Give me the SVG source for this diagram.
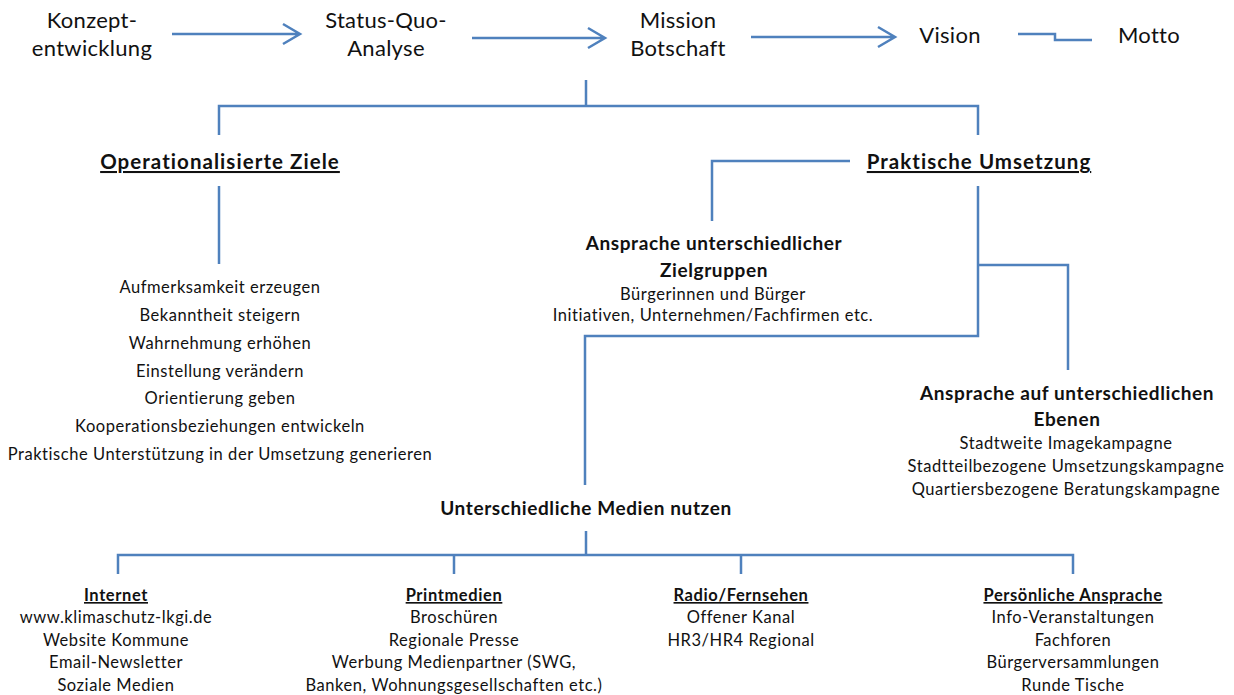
<svg xmlns="http://www.w3.org/2000/svg" width="1234" height="695" viewBox="0 0 1234 695">
<style>
text{font-family:Lato,"Open Sans","Liberation Sans",sans-serif;fill:#111;text-anchor:middle}
.t{font-size:22px;letter-spacing:0.3px}
.h{font-size:20.5px;font-weight:bold;text-decoration:underline;letter-spacing:1.05px}
.b{font-size:19px;font-weight:bold;letter-spacing:0.6px}
.r{font-size:16.5px;letter-spacing:0.55px}
.u{font-size:16.5px;font-weight:bold;text-decoration:underline;letter-spacing:0.6px}
.ln{fill:none;stroke:#4F81BD;stroke-width:2.5}
</style>
<rect width="1234" height="695" fill="#fff"/>
<g id="connectors">
<path class="ln" d="M172,34H300M283,24L300,34L283,44"/>
<path class="ln" d="M472,38H605M588,28L605,38L588,48"/>
<path class="ln" d="M751,37H895M878,27L895,37L878,47"/>
<path class="ln" d="M1018,34H1055V40H1092"/>
<path class="ln" d="M586,80V106M219,135V106H978V135"/>
<path class="ln" d="M219,186V264"/>
<path class="ln" d="M850,161H712V221"/>
<path class="ln" d="M978,186V336H585V485M978,265H1068V370"/>
<path class="ln" d="M586,531V555M118,574V555H1073V574M454,555V574M741,555V574"/>
</g>
<g id="konzept"><text class="t" x="92" y="28">Konzept-</text><text class="t" x="92" y="56">entwicklung</text></g>
<g id="statusquo"><text class="t" x="386" y="28">Status-Quo-</text><text class="t" x="386" y="56">Analyse</text></g>
<g id="mission"><text class="t" x="678" y="28">Mission</text><text class="t" x="678" y="56">Botschaft</text></g>
<g id="vision"><text class="t" x="950" y="43">Vision</text></g>
<g id="motto"><text class="t" x="1149" y="43">Motto</text></g>
<g id="ziele"><text class="h" x="220" y="169">Operationalisierte Ziele</text>
<text class="r" x="220" y="293">Aufmerksamkeit erzeugen</text>
<text class="r" x="220" y="321">Bekanntheit steigern</text>
<text class="r" x="220" y="349">Wahrnehmung erhöhen</text>
<text class="r" x="220" y="377">Einstellung verändern</text>
<text class="r" x="220" y="404">Orientierung geben</text>
<text class="r" x="220" y="432">Kooperationsbeziehungen entwickeln</text>
<text class="r" x="220" y="460">Praktische Unterstützung in der Umsetzung generieren</text>
</g>
<g id="umsetzung"><text class="h" x="979" y="169">Praktische Umsetzung</text></g>
<g id="zielgruppen"><text class="b" x="714" y="250">Ansprache unterschiedlicher</text><text class="b" x="714" y="277">Zielgruppen</text>
<text class="r" x="713" y="300">Bürgerinnen und Bürger</text>
<text class="r" x="713" y="321">Initiativen, Unternehmen/Fachfirmen etc.</text></g>
<g id="ebenen"><text class="b" x="1067" y="400">Ansprache auf unterschiedlichen</text><text class="b" x="1067" y="426">Ebenen</text>
<text class="r" x="1066" y="449">Stadtweite Imagekampagne</text>
<text class="r" x="1066" y="472">Stadtteilbezogene Umsetzungskampagne</text>
<text class="r" x="1066" y="495">Quartiersbezogene Beratungskampagne</text></g>
<g id="medien"><text class="b" x="586" y="515">Unterschiedliche Medien nutzen</text></g>
<g id="internet"><text class="u" x="116" y="601">Internet</text>
<text class="r" x="116" y="623">www.klimaschutz-lkgi.de</text>
<text class="r" x="116" y="646">Website Kommune</text>
<text class="r" x="116" y="668">Email-Newsletter</text>
<text class="r" x="116" y="691">Soziale Medien</text></g>
<g id="print"><text class="u" x="454" y="601">Printmedien</text>
<text class="r" x="454" y="623">Broschüren</text>
<text class="r" x="454" y="646">Regionale Presse</text>
<text class="r" x="454" y="668">Werbung Medienpartner (SWG,</text>
<text class="r" x="454" y="691">Banken, Wohnungsgesellschaften etc.)</text></g>
<g id="radio"><text class="u" x="741" y="601">Radio/Fernsehen</text>
<text class="r" x="741" y="623">Offener Kanal</text>
<text class="r" x="741" y="646">HR3/HR4 Regional</text></g>
<g id="persoenlich"><text class="u" x="1073" y="601">Persönliche Ansprache</text>
<text class="r" x="1073" y="623">Info-Veranstaltungen</text>
<text class="r" x="1073" y="646">Fachforen</text>
<text class="r" x="1073" y="668">Bürgerversammlungen</text>
<text class="r" x="1073" y="691">Runde Tische</text></g>
</svg>
